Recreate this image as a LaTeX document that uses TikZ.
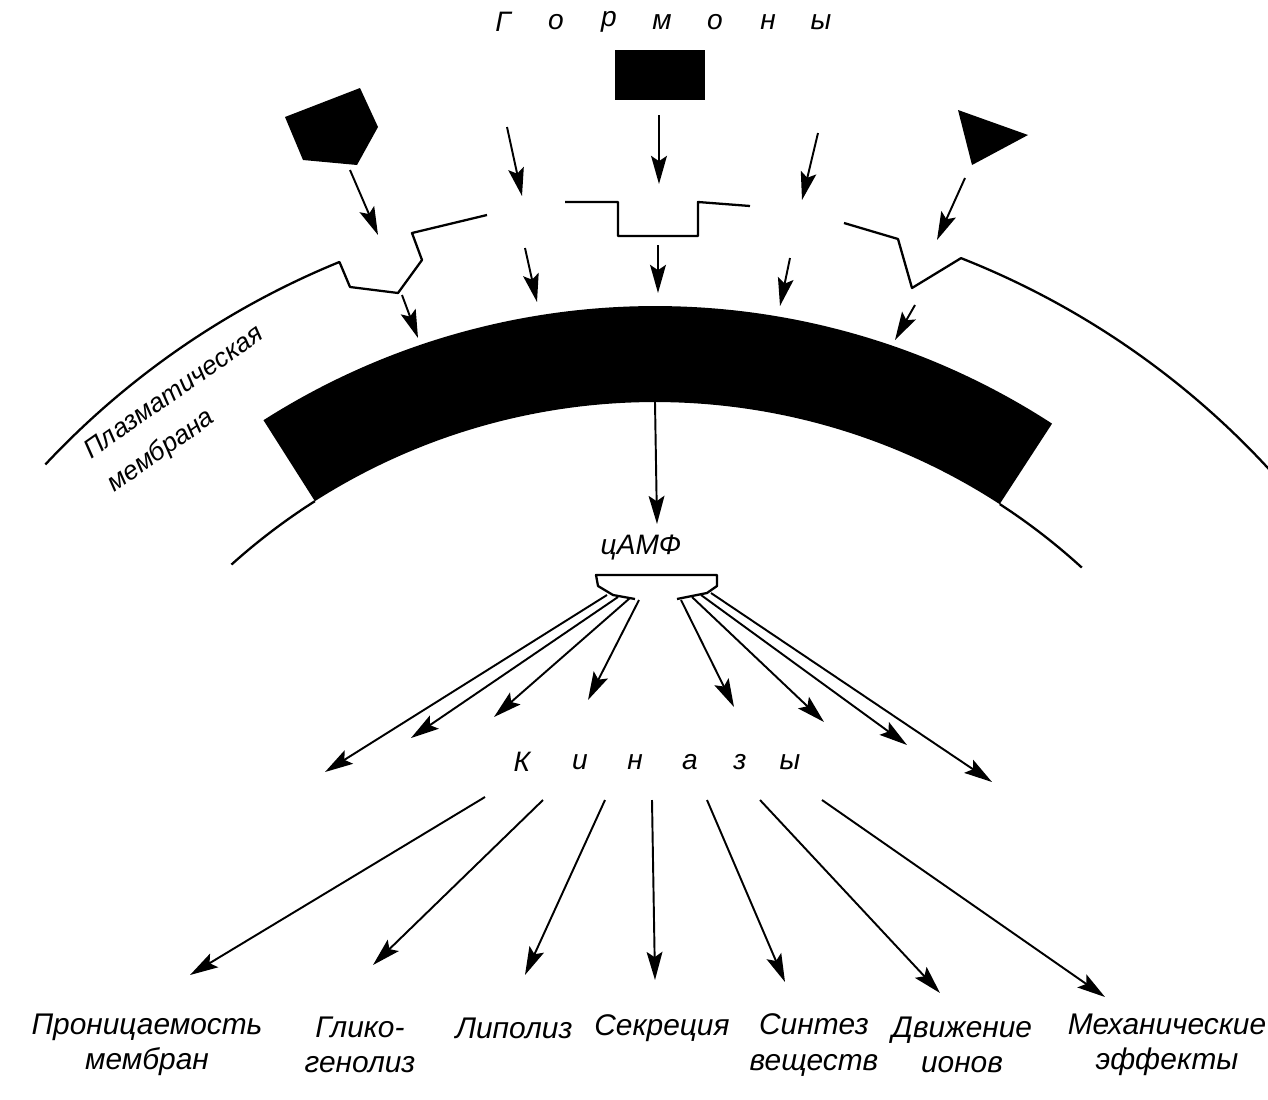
\documentclass[tikz,border=0pt]{standalone}
\usepackage{fontspec}
\setmainfont{Liberation Sans}
\usetikzlibrary{arrows.meta, calc}

\begin{document}
\begin{tikzpicture}[x=0.02cm, y=0.02cm,
    arr/.style={line width=1.1pt, -{Stealth[length=16pt, width=9pt, inset=3pt]}},
    memb/.style={line width=1.3pt, line join=round},
    letter/.style={font=\fontsize{16}{18}\selectfont\itshape, inner sep=0pt},
    lbl/.style={font=\fontsize{17}{20}\selectfont\itshape, align=center, inner sep=0pt}]
  \useasboundingbox (0,0) rectangle (1268,-1099);
  \coordinate (c) at (655,-1035);

  % hormones
  \foreach \ch [count=\i] in {Г,о,р,м,о,н,ы}
    \node[letter] (gorm\i) at (450+53*\i,-22) {\ch};
  \fill (285,-117) -- (360,-88) -- (378,-127) -- (357,-165) -- (303,-160) -- cycle;
  \node[fill, inner sep=0pt, minimum width=1.8cm, minimum height=1cm] (sq) at (660,-75) {};
  \fill (958,-110) -- (1028,-135) -- (972,-165) -- cycle;

  \foreach \xa/\ya/\xb/\yb [count=\i] in
    {350/170/378/235, 507/127/522/196, 659/115/659/184, 818/133/802/200, 965/178/937/240,
     402/295/418/338, 525/248/537/302, 658/245/658/293, 790/258/780/306, 915/305/895/340}
    {
      \coordinate (ht\i) at (\xa,-\ya);
      \coordinate (hh\i) at (\xb,-\yb);
      \draw[arr] (ht\i) -- (hh\i);
    }

  % membrane
  \draw[memb] ($(c)+(136.9:835)$) arc[start angle=136.9, end angle=112.2, radius=16.7cm]
    -- (350,-287) -- (398,-293) -- (422,-260) -- (412,-233) -- (487,-215);
  \draw[memb] (565,-202) -- (618,-202) -- (618,-236) -- (698,-236) -- (698,-202) -- (750,-206);
  \draw[memb] (844,-223) -- (898,-239) -- (912,-288) -- ($(c)+(68.5:835)$)
    arc[start angle=68.5, end angle=42.5, radius=16.7cm];
  \fill ($(c)+(57:729)$) arc[start angle=57, end angle=122.5, radius=14.58cm]
    -- ($(c)+(122.5:633)$) arc[start angle=122.5, end angle=57, radius=12.66cm] -- cycle;
  \draw[memb] ($(c)+(132:633)$) arc[start angle=132, end angle=122.5, radius=12.66cm];
  \draw[memb] ($(c)+(57:633)$) arc[start angle=57, end angle=47.6, radius=12.66cm];
  \node[font=\fontsize{15}{23}\selectfont\itshape, align=left, rotate=35] (membr)
    at (186,-410) {Плазматическая\\мембрана};

  % cAMP
  \coordinate (bandbot) at ($(c)+(90:633)$);
  \coordinate (camptip) at (657,-524);
  \node[letter] (camp) at (641,-548) {цАМФ};
  \draw[arr] (bandbot) -- (camptip);
  \draw[memb] (635,-599) -- (613,-595) -- (598,-586) -- (596,-575) -- (717,-575)
    -- (717,-586) -- (707,-593) -- (677,-599);

  \foreach \xa/\ya/\xb/\yb [count=\i] in
    {607/595/325/772, 618/597/411/738, 630/598/494/717, 639/600/588/700,
     681/600/734/707, 692/597/824/722, 701/595/907/745, 711/593/992/782}
    {
      \coordinate (cs\i) at (\xa,-\ya);
      \coordinate (ce\i) at (\xb,-\yb);
      \draw[arr] (cs\i) -- (ce\i);
    }

  % kinases
  \foreach \ch/\x [count=\i] in {К/522, и/580, н/635, а/690, з/740, ы/790}
    \node[letter] (kin\i) at (\x,-762) {\ch};

  \foreach \xa/\ya/\xb/\yb [count=\i] in
    {485/797/190/975, 543/800/373/965, 605/800/525/975, 652/800/655/980,
     707/800/785/982, 760/800/940/993, 822/800/1105/997}
    {
      \coordinate (ks\i) at (\xa,-\ya);
      \coordinate (ke\i) at (\xb,-\yb);
      \draw[arr] (ks\i) -- (ke\i);
    }

  % effects
  \node[lbl] (lab1) at (147,-1045) {Проницаемость\\мембран};
  \node[lbl] (lab2) at (360,-1045) {Глико-\\генолиз};
  \node[lbl] (lab3) at (514,-1028) {Липолиз};
  \node[lbl] (lab4) at (662,-1028) {Секреция};
  \node[lbl] (lab5) at (814,-1045) {Синтез\\веществ};
  \node[lbl] (lab6) at (962,-1045) {Движение\\ионов};
  \node[lbl] (lab7) at (1167,-1045) {Механические\\эффекты};
\end{tikzpicture}
\end{document}
